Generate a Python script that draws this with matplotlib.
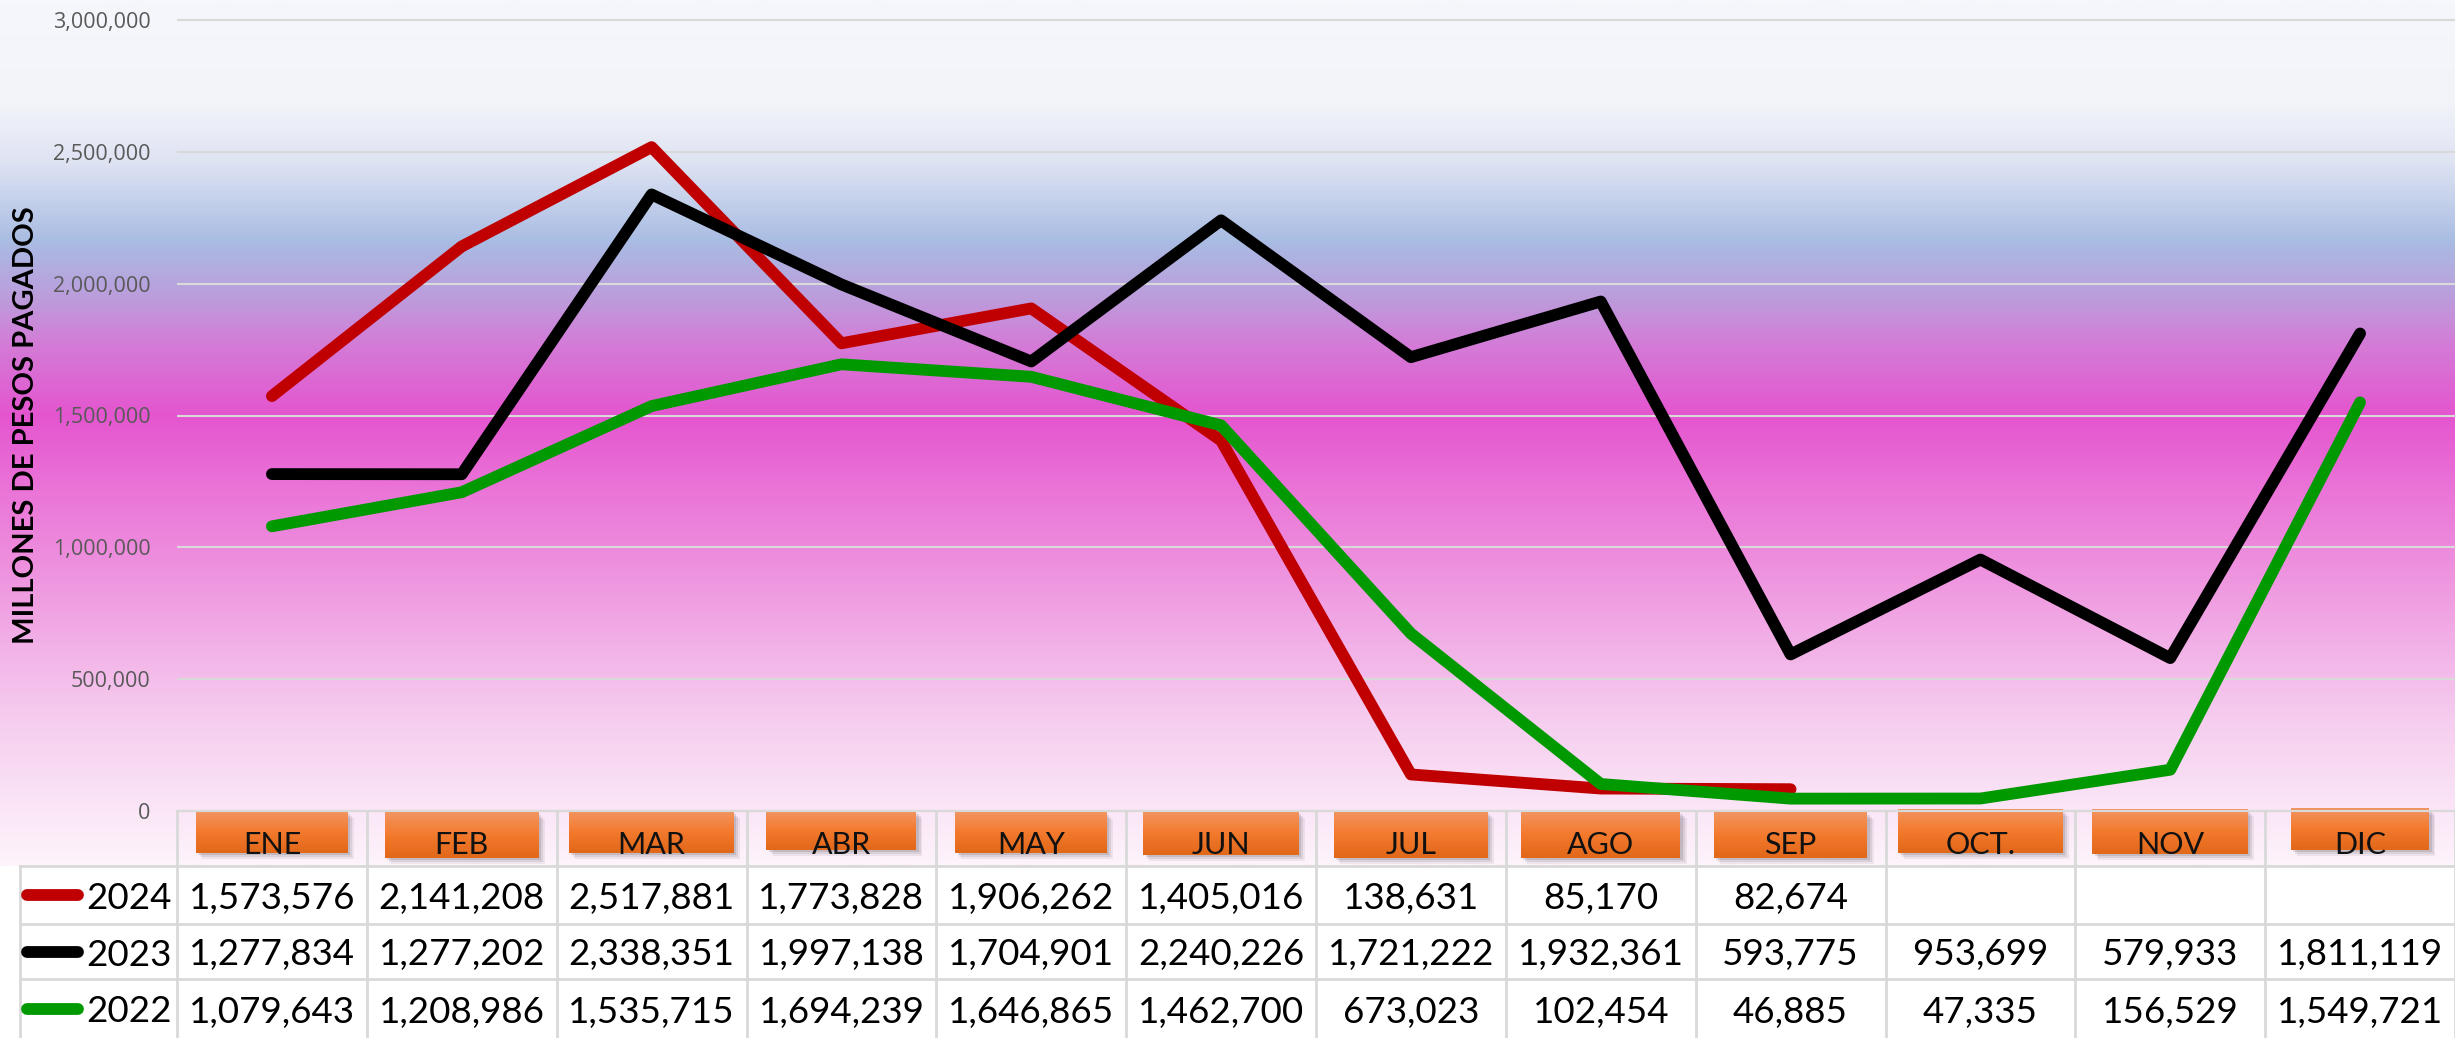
import numpy as np
import matplotlib
matplotlib.use("Agg")
import matplotlib.pyplot as plt
import matplotlib.transforms as mtransforms
from matplotlib.colors import LinearSegmentedColormap, to_rgb
from matplotlib.patches import Rectangle
from matplotlib.ticker import FuncFormatter

plt.rcParams['font.family'] = ['Lato', 'DejaVu Sans']

# datos (pesos pagados por mes)
meses = ['ENE', 'FEB', 'MAR', 'ABR', 'MAY', 'JUN', 'JUL', 'AGO', 'SEP', 'OCT.', 'NOV', 'DIC']
anios = ['2024', '2023', '2022']
pagos_2024 = [1573576, 2141208, 2517881, 1773828, 1906262, 1405016,
              138631, 85170, 82674, None, None, None]
pagos_2023 = [1277834, 1277202, 2338351, 1997138, 1704901, 2240226,
              1721222, 1932361, 593775, 953699, 579933, 1811119]
pagos_2022 = [1079643, 1208986, 1535715, 1694239, 1646865, 1462700,
              673023, 102454, 46885, 47335, 156529, 1549721]
colores = ['#c00000', '#000000', '#009900']
yticks = [0, 500000, 1000000, 1500000, 2000000, 2500000, 3000000]

# tamaño de las cajas naranjas (solo estilo)
caja_ancho = [0.80, 0.81, 0.87, 0.79, 0.80, 0.82, 0.81, 0.84, 0.81, 0.87, 0.82, 0.73]
caja_arriba = [811, 812, 811, 811, 812, 811, 811, 811, 812, 809, 809, 808]
caja_abajo = [852, 857, 852, 849, 852, 854, 857, 857, 857, 852, 853, 849]

W, H = 2455, 1038
fig = plt.figure(figsize=(W / 100, H / 100), dpi=100)
fig.patch.set_facecolor('white')


def fy(y):
    return 1 - y / H


# fondo degradado
paradas = [(0, '#f6f7fc'), (100, '#f3f4fa'), (160, '#dfe4f3'), (240, '#a9bce3'),
           (295, '#bb9edc'), (345, '#d47bd7'), (415, '#e455cf'), (485, '#ea72d7'),
           (565, '#ee90de'), (645, '#f2b0e7'), (725, '#f6ceef'), (805, '#fae4f6'),
           (866, '#fdf3fb')]
cmap = LinearSegmentedColormap.from_list('fondo', [(p / 866, c) for p, c in paradas])
bg = fig.add_axes([0, fy(866), 1, 866 / H], zorder=0)
bg.imshow(np.linspace(0, 1, 600).reshape(-1, 1), aspect='auto', cmap=cmap,
          extent=[0, 1, 0, 1], origin='upper')
bg.axis('off')

# tabla / cajas
tab = fig.add_axes([0, 0, 1, 1], zorder=1)
tab.set_xlim(0, W)
tab.set_ylim(H, 0)
tab.axis('off')

# grafica principal
ax = fig.add_axes([177 / W, fy(811), 1 - 177 / W, 811 / H], zorder=2)
ax.set_facecolor('none')
x = np.arange(len(meses))
ax.set_xlim(-0.5, len(meses) - 0.5)
ax.set_ylim(0, 3000000 * 811 / 791)
ax.set_yticks(yticks)
ax.yaxis.set_major_formatter(FuncFormatter(lambda v, p: f'{v:,.0f}'))
ax.tick_params(axis='y', length=0, pad=19, labelsize=15.5, labelcolor='#595959')
for lbl in ax.get_yticklabels():
    lbl.set_fontfamily('Open Sans')
ax.set_xticks([])
for s in ['top', 'right', 'left']:
    ax.spines[s].set_visible(False)
ax.spines['bottom'].set_color('#d9d9d9')
ax.spines['bottom'].set_linewidth(1.5)
ax.yaxis.grid(True, color='#d9d9d9', lw=1.5)
ax.set_axisbelow(True)

series = [pagos_2024, pagos_2023, pagos_2022]
for vals, c in zip(series, colores):
    y = np.array([np.nan if v is None else v for v in vals], dtype=float)
    ax.plot(x, y, color=c, lw=8.5, solid_capstyle='round', solid_joinstyle='round',
            zorder=3, clip_on=False)

fig.text(26 / W, fy(425), 'MILLONES DE PESOS PAGADOS', rotation=90, ha='center',
         va='center', rotation_mode='anchor', fontsize=21, fontweight='bold',
         color='black')

trans = mtransforms.blended_transform_factory(ax.transData, tab.transData)
filas = [811, 866, 924, 979, 1038]
gris = '#d9d9d9'

# lineas de la tabla
for k in range(len(meses) + 1):
    tab.plot([k - 0.5, k - 0.5], [filas[0], filas[-1]], color=gris, lw=2, transform=trans)
for yl in filas[1:4]:
    tab.plot([20, W], [yl, yl], color=gris, lw=2)
tab.plot([20, 20], [filas[1], filas[-1]], color=gris, lw=2)

# cajas naranjas con etiquetas de mes
top_c = np.array(to_rgb('#f1935f'))
mid_c = np.array(to_rgb('#f37a2d'))
bot_c = np.array(to_rgb('#e2681a'))
for i, mes in enumerate(meses):
    w = caja_ancho[i]
    t, b = caja_arriba[i], caja_abajo[i]
    for dx, dy, a in [(0.012, 3, 0.10), (0.022, 5, 0.08), (0.032, 7, 0.06)]:
        tab.add_patch(Rectangle((i - w / 2 + dx, t + dy), w, b - t, transform=trans,
                                facecolor='black', edgecolor='none', alpha=a, zorder=2))
    n = 24
    for k in range(n):
        f = k / (n - 1)
        if f < 0.5:
            col = top_c + (mid_c - top_c) * (f / 0.5)
        else:
            col = mid_c + (bot_c - mid_c) * ((f - 0.5) / 0.5)
        y0 = t + (b - t) * k / n
        tab.add_patch(Rectangle((i - w / 2, y0), w, (b - t) / n + 0.5, transform=trans,
                                facecolor=col, edgecolor='none', zorder=3))
    tab.text(i, 854, mes, transform=trans, ha='center', va='baseline', fontsize=22,
             color='#111111', zorder=4)

# valores y leyenda de la tabla
for r, (vals, c, anio) in enumerate(zip(series, colores, anios)):
    yc = (filas[r + 1] + filas[r + 2]) / 2
    tab.plot([27, 78], [yc, yc], color=c, lw=8.5, solid_capstyle='round')
    tab.text(86, yc + 14, anio, ha='left', va='baseline', fontsize=26.5, color='black')
    for i, v in enumerate(vals):
        if v is not None:
            tab.text(i, yc + 14, f'{v:,}', transform=trans, ha='center', va='baseline',
                     fontsize=26.5, color='black')

fig.savefig('out.png', dpi=100)
